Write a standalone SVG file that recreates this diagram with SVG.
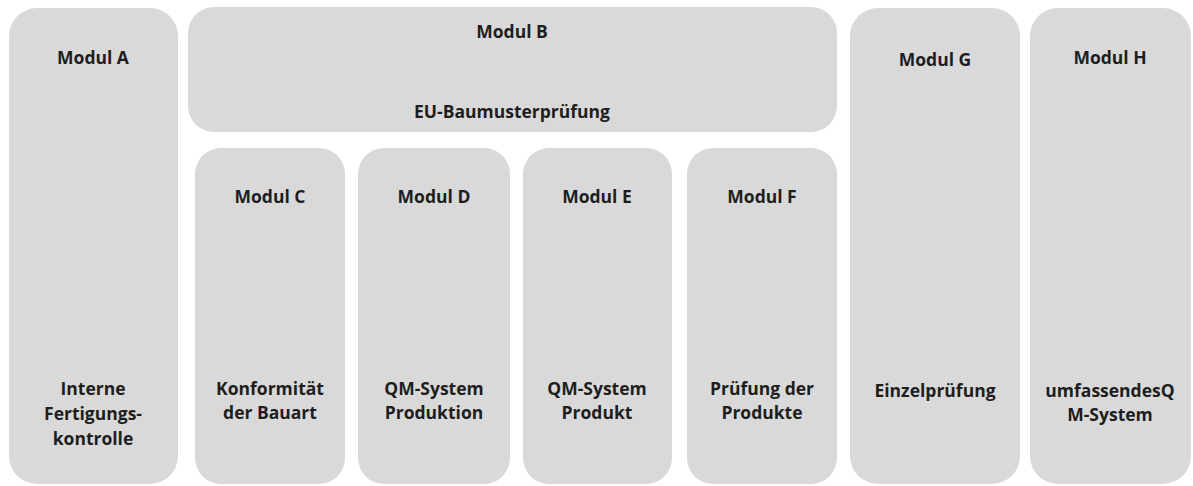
<svg xmlns="http://www.w3.org/2000/svg" width="1193" height="486" viewBox="0 0 1193 486">
<style>
.box{fill:#d9d9d9;}
text{font-family:"Open Sans","Liberation Sans",sans-serif;font-weight:bold;font-size:17.5px;fill:#1e1e1e;text-anchor:middle;}
</style>
<rect width="1193" height="486" fill="#ffffff"/>
<g id="modul-a"><rect class="box" x="9" y="8" width="169" height="476" rx="28"/>
<text x="93" y="64">Modul A</text>
<text x="93" y="395">Interne</text><text x="93" y="420">Fertigungs-</text><text x="93" y="445">kontrolle</text></g>
<g id="modul-b"><rect class="box" x="188" y="7" width="649" height="125" rx="26"/>
<text x="512" y="38">Modul B</text><text x="512" y="118">EU-Baumusterprüfung</text></g>
<g id="modul-c"><rect class="box" x="195" y="148" width="150" height="336" rx="26"/>
<text x="270" y="203">Modul C</text><text x="270" y="395">Konformität</text><text x="270" y="419">der Bauart</text></g>
<g id="modul-d"><rect class="box" x="358" y="148" width="152" height="336" rx="26"/>
<text x="434" y="203">Modul D</text><text x="434" y="395">QM-System</text><text x="434" y="419">Produktion</text></g>
<g id="modul-e"><rect class="box" x="523" y="148" width="149" height="336" rx="26"/>
<text x="597" y="203">Modul E</text><text x="597" y="395">QM-System</text><text x="597" y="419">Produkt</text></g>
<g id="modul-f"><rect class="box" x="687" y="148" width="150" height="336" rx="26"/>
<text x="762" y="203">Modul F</text><text x="762" y="395">Prüfung der</text><text x="762" y="419">Produkte</text></g>
<g id="modul-g"><rect class="box" x="850" y="8" width="170" height="476" rx="28"/>
<text x="935" y="66">Modul G</text><text x="935" y="397">Einzelprüfung</text></g>
<g id="modul-h"><rect class="box" x="1030" y="8" width="161" height="476" rx="28"/>
<text x="1110" y="64">Modul H</text><text x="1110" y="397">umfassendesQ</text><text x="1110" y="421">M-System</text></g>
<g id="connectors"/>
</svg>
